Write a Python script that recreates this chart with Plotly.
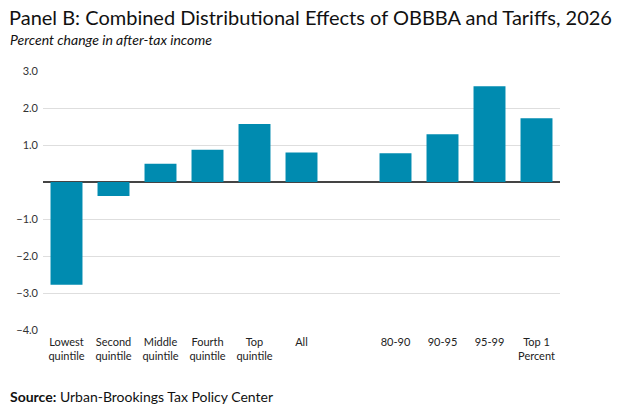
import plotly.graph_objects as go

categories = ["Lowest<br>quintile", "Second<br>quintile", "Middle<br>quintile", "Fourth<br>quintile",
              "Top<br>quintile", "All", " ", "80-90", "90-95", "95-99", "Top 1<br>Percent"]
values = [-2.78, -0.38, 0.49, 0.87, 1.57, 0.80, None, 0.78, 1.29, 2.59, 1.72]
tick_vals = [3, 2, 1, -1, -2, -3, -4]
tick_text = ["3.0", "2.0", "1.0", "\u22121.0", "\u22122.0", "\u22123.0", "\u22124.0"]

BAR = "#008BB0"
W, H = 618, 408
L, R, T, B = 43, 58, 71, 78
pw = W - L - R
ph = H - T - B

fig = go.Figure()
fig.add_trace(go.Bar(x=categories, y=values, marker=dict(color=BAR, line=dict(width=0)),
                     width=0.68, hoverinfo="skip"))

fig.update_layout(
    width=W, height=H,
    margin=dict(l=L, r=R, t=T, b=B, pad=0),
    paper_bgcolor="white", plot_bgcolor="white",
    font=dict(family="Lato, sans-serif", color="#222222", size=11),
    showlegend=False,
    xaxis=dict(type="category", range=[-0.5, 10.5], showgrid=False, showline=False,
               ticks="", ticklabelstandoff=4, tickfont=dict(size=11, color="#222222"),
               fixedrange=True),
    yaxis=dict(range=[-4, 3], tickvals=tick_vals, ticktext=tick_text, showgrid=True,
               gridcolor="#dedede", gridwidth=1, zeroline=True, zerolinecolor="#444444",
               zerolinewidth=1.5, showline=False, ticks="", ticklabelstandoff=4,
               tickfont=dict(size=11, color="#333333"), fixedrange=True),
    annotations=[
        dict(text="Panel B: Combined Distributional Effects of OBBBA and Tariffs, 2026",
             xref="paper", yref="paper", x=-(L - 7) / pw, y=1 + (T - 17) / ph,
             xanchor="left", yanchor="middle", showarrow=False,
             font=dict(size=20, color="#111111")),
        dict(text="<i>Percent change in after-tax income</i>",
             xref="paper", yref="paper", x=-(L - 8) / pw, y=1 + (T - 39) / ph,
             xanchor="left", yanchor="middle", showarrow=False,
             font=dict(size=14, color="#111111")),
        dict(text="<b>Source:</b> Urban-Brookings Tax Policy Center",
             xref="paper", yref="paper", x=-(L - 8) / pw, y=-(396 - (H - B)) / ph,
             xanchor="left", yanchor="middle", showarrow=False,
             font=dict(size=14, color="#111111")),
    ],
)

fig.write_html("out.html", config={"displayModeBar": False},
               post_script="document.body.style.margin='0';document.body.style.overflow='hidden';")
